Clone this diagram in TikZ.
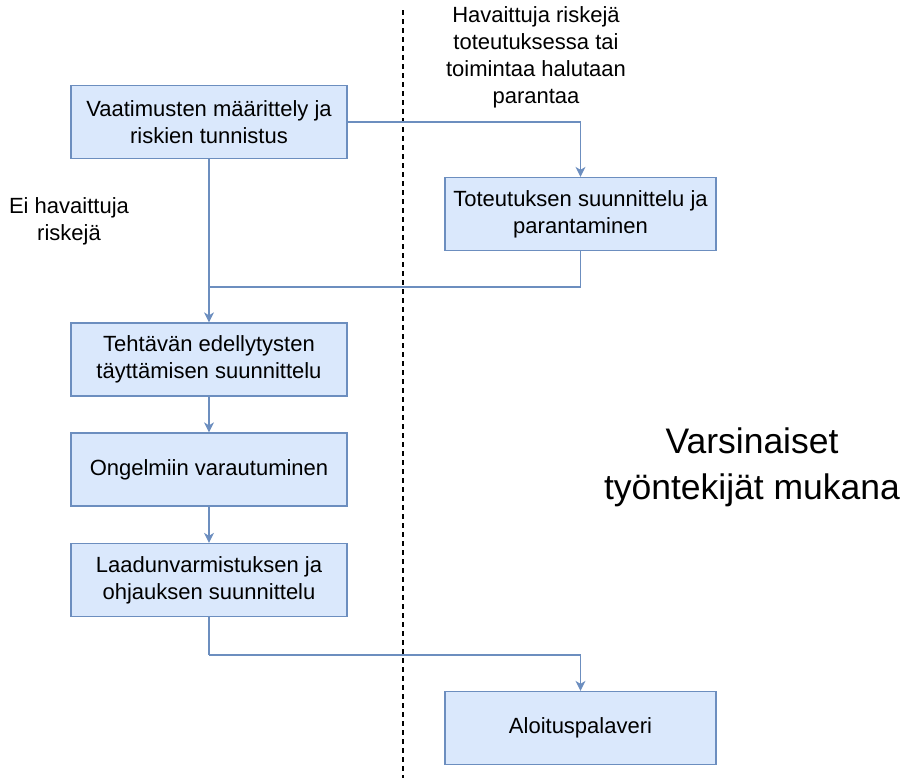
\documentclass[tikz,border=0pt]{standalone}
\usepackage{fontspec}
\setmainfont{Liberation Sans}
\usetikzlibrary{arrows.meta}
\definecolor{boxfill}{HTML}{DAE8FC}
\definecolor{boxdraw}{HTML}{6C8EBF}
\begin{document}
\begin{tikzpicture}[x=1pt,y=-1pt,
  stepbox/.style={draw=boxdraw,fill=boxfill,line width=1.3pt,minimum width=276pt,minimum height=73pt,align=center,font=\fontsize{22}{27}\selectfont,inner sep=0pt},
  conn/.style={draw=boxdraw,line width=1.3pt},
  arr/.style={conn,-{Stealth[length=10pt,width=10pt,inset=3pt]}},
  lbl/.style={font=\fontsize{22}{27}\selectfont,inner sep=0pt}]
\useasboundingbox (0,0) rectangle (909,782);
\node[stepbox] (b1) at (209,122) {Vaatimusten määrittely ja\\riskien tunnistus};
\node[stepbox,minimum width=271pt] (b2) at (580.5,214) {Toteutuksen suunnittelu ja\\parantaminen};
\node[stepbox] (b3) at (209,359.5) {Tehtävän edellytysten\\täyttämisen suunnittelu};
\node[stepbox] (b4) at (209,469.5) {Ongelmiin varautuminen};
\node[stepbox] (b5) at (209,580) {Laadunvarmistuksen ja\\ohjauksen suunnittelu};
\node[stepbox,minimum width=271pt] (b6) at (580.5,728) {Aloituspalaveri};
\coordinate (top) at (403,10);
\coordinate (bot) at (403,778);
\draw[black,line width=1.3pt,dash pattern=on 5pt off 4pt] (top) -- (bot);
\coordinate (j1) at (209,287);
\coordinate (j2) at (209,655);
\draw[arr] (b1.south) -- (b3.north);
\draw[arr] (b1.east) -| (b2.north);
\draw[conn] (b2.south) |- (j1);
\draw[arr] (b3.south) -- (b4.north);
\draw[arr] (b4.south) -- (b5.north);
\draw[conn] (b5.south) -- (j2);
\draw[arr] (j2) -| (b6.north);
\node[lbl,align=center,anchor=north] (l1) at (69,197) {Ei havaittuja\\riskejä};
\node[lbl,align=center,anchor=north] (l2) at (536,6) {Havaittuja riskejä\\toteutuksessa tai\\toimintaa halutaan\\parantaa};
\node[align=center,font=\fontsize{35.5}{46}\selectfont,inner sep=0pt] (l3) at (752,467) {Varsinaiset\\työntekijät mukana};
\end{tikzpicture}
\end{document}
